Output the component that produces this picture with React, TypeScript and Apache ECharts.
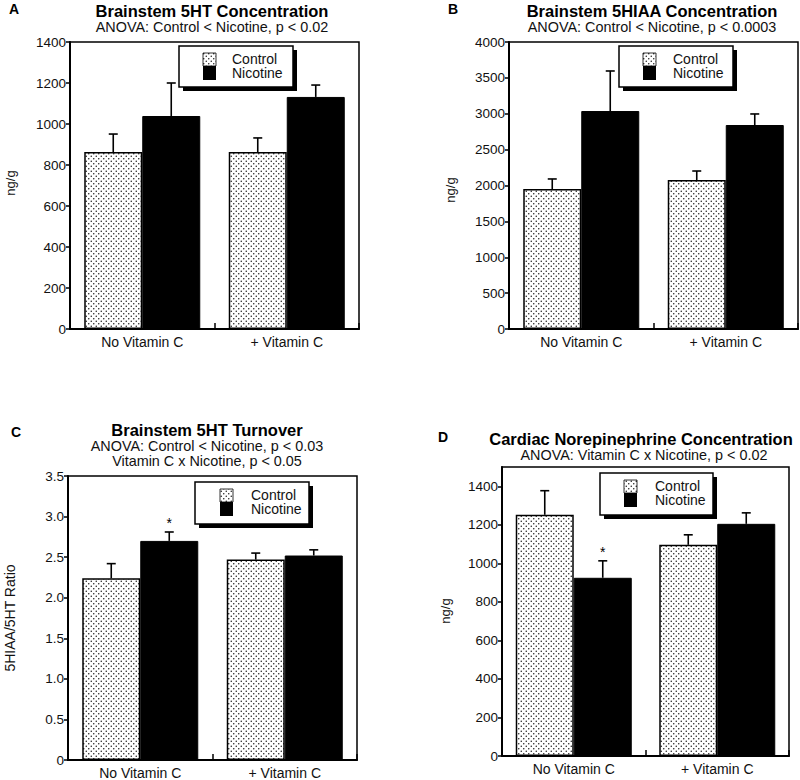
import React, { useEffect, useRef } from "react";
import * as echarts from "echarts";

// ---------- data ----------
const categories = ["No Vitamin C", "+ Vitamin C"];
const groupNames = ["Control", "Nicotine"];

// Panel A: Brainstem 5HT (ng/g)
const aControl = [863, 863];
const aControlErr = [88, 69];
const aNicotine = [1039, 1132];
const aNicotineErr = [161, 58];
const aSig = [0, 0];

// Panel B: Brainstem 5HIAA (ng/g)
const bControl = [1951, 2077];
const bControlErr = [140, 125];
const bNicotine = [3038, 2843];
const bNicotineErr = [558, 154];
const bSig = [0, 0];

// Panel C: 5HIAA/5HT ratio
const cControl = [2.24, 2.47];
const cControlErr = [0.18, 0.08];
const cNicotine = [2.7, 2.52];
const cNicotineErr = [0.11, 0.07];
const cSig = [1, 0];

// Panel D: Cardiac norepinephrine (ng/g)
const dControl = [1252, 1096];
const dControlErr = [125, 52];
const dNicotine = [925, 1205];
const dNicotineErr = [88, 57];
const dSig = [1, 0];

const yMaxes = [1400, 4000, 3.5, 1500];
const yIntervals = [200, 500, 0.5, 200];
const yNames = ["ng/g", "ng/g", "5HIAA/5HT Ratio", "ng/g"];
const panelLetters = ["A", "B", "C", "D"];
const titles = [
  "Brainstem 5HT Concentration",
  "Brainstem 5HIAA Concentration",
  "Brainstem 5HT Turnover",
  "Cardiac Norepinephrine Concentration",
];
const subtitles = [
  ["ANOVA: Control < Nicotine, p < 0.02"],
  ["ANOVA: Control < Nicotine, p < 0.0003"],
  ["ANOVA: Control < Nicotine, p < 0.03", "Vitamin C x Nicotine, p < 0.05"],
  ["ANOVA: Vitamin C x Nicotine, p < 0.02"],
];

const panelData = [
  { control: aControl, controlErr: aControlErr, nicotine: aNicotine, nicotineErr: aNicotineErr, sig: aSig },
  { control: bControl, controlErr: bControlErr, nicotine: bNicotine, nicotineErr: bNicotineErr, sig: bSig },
  { control: cControl, controlErr: cControlErr, nicotine: cNicotine, nicotineErr: cNicotineErr, sig: cSig },
  { control: dControl, controlErr: dControlErr, nicotine: dNicotine, nicotineErr: dNicotineErr, sig: dSig },
];

// ---------- layout ----------
const FONT = "Liberation Sans, Arial, Helvetica, sans-serif";
const grids = [
  { left: 70, top: 42, width: 289, height: 287 },
  { left: 509, top: 42, width: 289, height: 287 },
  { left: 68, top: 476, width: 289, height: 286 },
  { left: 502, top: 467, width: 287, height: 289 },
];
const letterPos = [
  [14, 9],
  [453, 9],
  [16, 432],
  [443, 437],
];
const titlePos = [
  [212, 10.5],
  [652, 10.5],
  [207, 429.5],
  [641, 438.5],
];
const subPos = [
  [[212, 26.5]],
  [[652, 26.5]],
  [[207, 445.5], [207, 460.5]],
  [[644, 454.5]],
];
const yNamePos = [
  [10, 183],
  [450, 190],
  [10, 618],
  [445, 611],
];
const legendBox = [
  { x: 179, y: 46, w: 114, h: 41, icon: 203, text: 232 },
  { x: 619, y: 46, w: 114, h: 41, icon: 643, text: 673 },
  { x: 195, y: 482, w: 114, h: 42, icon: 220, text: 251 },
  { x: 600, y: 473, w: 113, h: 42, icon: 624, text: 655 },
];

const BAR_W = 58;

const dotTile =
  "data:image/svg+xml;utf8," +
  encodeURIComponent(
    '<svg xmlns="http://www.w3.org/2000/svg" width="5" height="5"><rect width="5" height="5" fill="#fff"/><circle cx="1.25" cy="1.25" r="0.75" fill="#1a1a1a"/><circle cx="3.75" cy="3.75" r="0.75" fill="#1a1a1a"/></svg>'
  );
const dotPattern: any = { image: dotTile, repeat: "repeat", imageWidth: 5, imageHeight: 5 };

function errorRender(params: any, api: any) {
  const cat = api.value(0);
  const val = api.value(1);
  const err = api.value(2);
  const side = api.value(3);
  const sig = api.value(4);
  const base = api.coord([cat, val]);
  const top = api.coord([cat, val + err]);
  const x = base[0] + (side * BAR_W) / 2;
  const children: any[] = [
    { type: "line", shape: { x1: x, y1: base[1], x2: x, y2: top[1] }, style: { stroke: "#000", lineWidth: 1.6 } },
    { type: "line", shape: { x1: x - 4.5, y1: top[1], x2: x + 4.5, y2: top[1] }, style: { stroke: "#000", lineWidth: 1.6 } },
  ];
  if (sig) {
    children.push({
      type: "text",
      x: x,
      y: top[1] - 2,
      style: { text: "*", fill: "#000", font: `14px ${FONT}`, align: "center", verticalAlign: "bottom" },
    });
  }
  return { type: "group", children };
}

function buildOption() {
  const xAxis: any[] = [];
  const yAxis: any[] = [];
  const series: any[] = [];
  const graphic: any[] = [];

  grids.forEach((g, i) => {
    xAxis.push({
      type: "category",
      gridIndex: i,
      data: categories,
      boundaryGap: true,
      axisLine: { show: true, lineStyle: { color: "#000", width: 2 } },
      axisTick: { show: true, inside: true, length: 6, lineStyle: { color: "#000", width: 1.5 } },
      axisLabel: { color: "#111", fontSize: 14, fontFamily: FONT, margin: 6 },
      splitLine: { show: false },
    });
    yAxis.push({
      type: "value",
      gridIndex: i,
      min: 0,
      max: yMaxes[i],
      interval: yIntervals[i],
      axisLine: { show: true, lineStyle: { color: "#000", width: 2 } },
      axisTick: { show: true, inside: false, length: 4, lineStyle: { color: "#000", width: 1.5 } },
      axisLabel: {
        color: "#111",
        fontSize: 13.5,
        fontFamily: FONT,
        margin: 4,
        showMaxLabel: i === 3 ? false : true,
        formatter: (v: number) => (i === 2 ? (v === 0 ? "0" : v.toFixed(1)) : String(v)),
      },
      splitLine: { show: false },
    });

    const p = panelData[i];
    series.push({
      name: groupNames[0],
      type: "bar",
      xAxisIndex: i,
      yAxisIndex: i,
      barWidth: BAR_W,
      barGap: "0%",
      data: p.control,
      itemStyle: { color: dotPattern, borderColor: "#000", borderWidth: 1.5 },
    });
    series.push({
      name: groupNames[1],
      type: "bar",
      xAxisIndex: i,
      yAxisIndex: i,
      barWidth: BAR_W,
      barGap: "0%",
      data: p.nicotine,
      itemStyle: { color: "#000", borderColor: "#000", borderWidth: 1 },
    });
    const errData: any[] = [];
    categories.forEach((_, k) => {
      errData.push([k, p.control[k], p.controlErr[k], -1, 0]);
      errData.push([k, p.nicotine[k], p.nicotineErr[k], 1, p.sig[k]]);
    });
    series.push({
      type: "custom",
      xAxisIndex: i,
      yAxisIndex: i,
      data: errData,
      renderItem: errorRender,
      z: 5,
      silent: true,
    });

    // panel letter
    graphic.push({
      type: "text",
      x: letterPos[i][0],
      y: letterPos[i][1],
      style: { text: panelLetters[i], fill: "#000", font: `bold 14px ${FONT}`, align: "center", verticalAlign: "middle" },
    });
    // title
    graphic.push({
      type: "text",
      x: titlePos[i][0],
      y: titlePos[i][1],
      style: { text: titles[i], fill: "#000", font: `bold 16.5px ${FONT}`, align: "center", verticalAlign: "middle" },
    });
    subtitles[i].forEach((s, k) => {
      graphic.push({
        type: "text",
        x: subPos[i][k][0],
        y: subPos[i][k][1],
        style: { text: s, fill: "#111", font: `14.4px ${FONT}`, align: "center", verticalAlign: "middle" },
      });
    });
    // y name
    graphic.push({
      type: "text",
      x: yNamePos[i][0],
      y: yNamePos[i][1],
      rotation: Math.PI / 2,
      style: {
        text: yNames[i],
        fill: "#111",
        font: `${i === 2 ? 14 : 13}px ${FONT}`,
        align: "center",
        verticalAlign: "middle",
      },
    });
    // legend
    const L = legendBox[i];
    graphic.push({
      type: "rect",
      shape: { x: L.x + 4, y: L.y + 4, width: L.w, height: L.h },
      style: { fill: "#000" },
      z: 10,
    });
    graphic.push({
      type: "rect",
      shape: { x: L.x, y: L.y, width: L.w, height: L.h },
      style: { fill: "#fff", stroke: "#000", lineWidth: 1.5 },
      z: 11,
    });
    const iconTop = L.y + 7;
    graphic.push({
      type: "rect",
      shape: { x: L.icon, y: iconTop, width: 13, height: 13 },
      style: { fill: dotPattern, stroke: "#000", lineWidth: 0.8 },
      z: 12,
    });
    graphic.push({
      type: "rect",
      shape: { x: L.icon, y: iconTop + 13, width: 13, height: 14 },
      style: { fill: "#000" },
      z: 12,
    });
    graphic.push({
      type: "text",
      x: L.text,
      y: L.y + 12.5,
      style: { text: groupNames[0], fill: "#111", font: `14px ${FONT}`, align: "left", verticalAlign: "middle" },
      z: 12,
    });
    graphic.push({
      type: "text",
      x: L.text,
      y: L.y + 27,
      style: { text: groupNames[1], fill: "#111", font: `14px ${FONT}`, align: "left", verticalAlign: "middle" },
      z: 12,
    });
  });

  return {
    animation: false,
    backgroundColor: "#fff",
    textStyle: { fontFamily: FONT },
    grid: grids.map((g) => ({
      ...g,
      show: true,
      borderColor: "#000",
      borderWidth: 1.5,
      backgroundColor: "transparent",
      containLabel: false,
    })),
    xAxis,
    yAxis,
    series,
    graphic,
  };
}

export default function App() {
  const ref = useRef<HTMLDivElement>(null);
  useEffect(() => {
    if (!ref.current) return;
    const chart = echarts.init(ref.current, undefined, { renderer: "svg" });
    chart.setOption(buildOption() as any);
    return () => chart.dispose();
  }, []);
  return (
    <div
      ref={ref}
      style={{ position: "fixed", left: 0, top: 0, width: 800, height: 780, background: "#fff" }}
    />
  );
}
